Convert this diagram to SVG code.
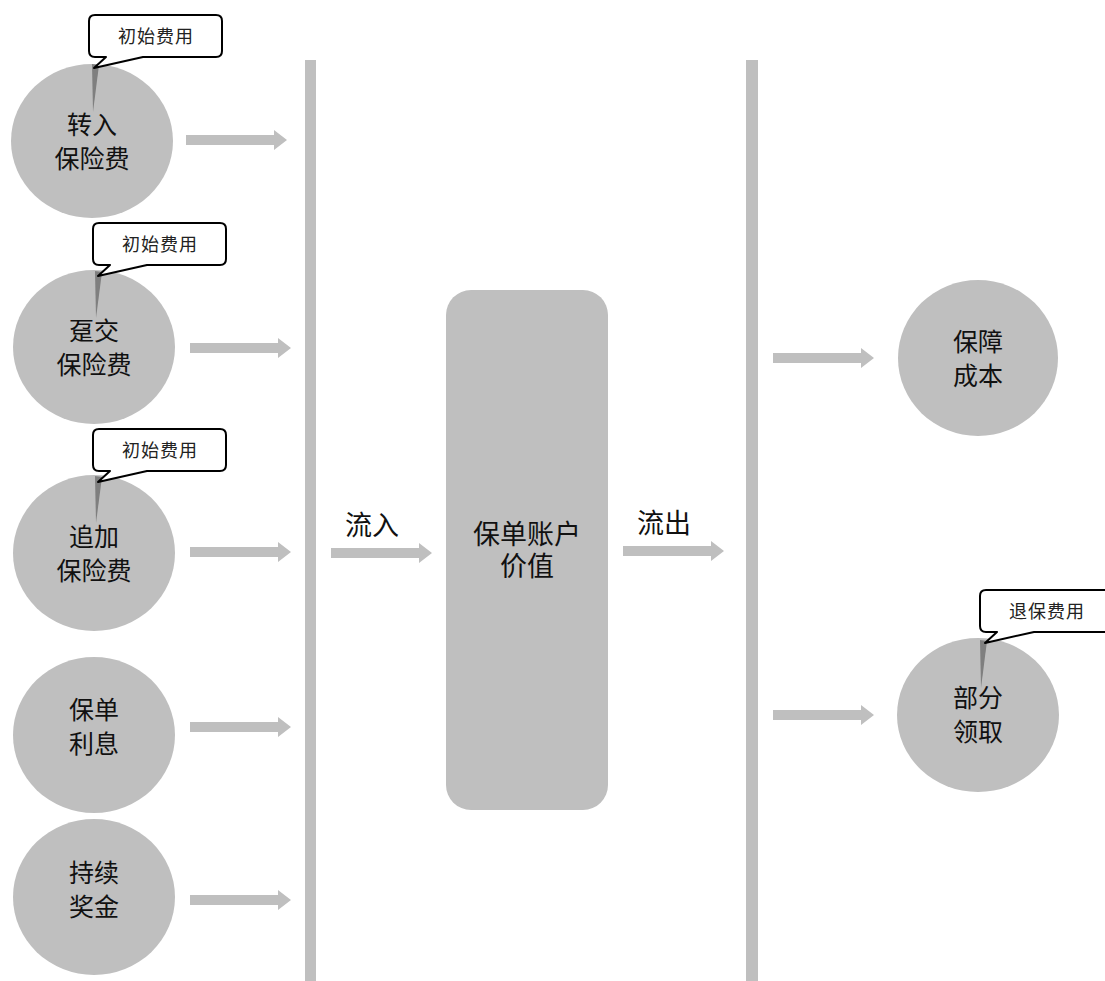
<svg xmlns="http://www.w3.org/2000/svg" width="1105" height="981" viewBox="0 0 1105 981">
<style>
.c{fill:#bfbfbf}
.w{fill:#7f7f7f}
.t{font-family:"Liberation Serif","Noto Sans CJK SC",serif;font-size:25px;fill:#111;text-anchor:middle}
.big{font-size:27px}
.ct{font-family:"Liberation Serif","Noto Sans CJK SC",serif;font-size:18px;fill:#222;text-anchor:middle;letter-spacing:1px}
.co{fill:#fff;stroke:#000;stroke-width:2;stroke-linejoin:round}
.bar{fill:#bfbfbf}
</style>
<defs>
<path id="arr" d="M0,-5 H88 V-10 L101,0 L88,10 V5 H0 Z" fill="#bfbfbf"/>
<path id="callout" d="M6,0 H127 Q133,0 133,6 V36 Q133,42 127,42 H54 L5,53 L17,42 H6 Q0,42 0,36 V6 Q0,0 6,0 Z"/>
</defs>
<rect class="bar" x="305" y="60" width="11" height="921"/>
<rect class="bar" x="746" y="60" width="12" height="921"/>
<g id="connectors">
<use href="#arr" x="186" y="140"/>
<use href="#arr" x="190" y="348"/>
<use href="#arr" x="190" y="552"/>
<use href="#arr" x="190" y="727"/>
<use href="#arr" x="190" y="900"/>
<use href="#arr" x="331" y="553"/>
<use href="#arr" x="623" y="551"/>
<use href="#arr" x="773" y="358"/>
<use href="#arr" x="773" y="715"/>
</g>
<g id="n1">
<ellipse class="c" cx="92" cy="141" rx="81" ry="77"/>
<polygon class="w" points="92,64 99,65 93,112"/>
<use href="#callout" x="89" y="15" class="co"/>
<text class="ct" x="156" y="43">初始费用</text>
<text class="t" x="92" y="134">转入</text>
<text class="t" x="92" y="168">保险费</text>
</g>
<g id="n2">
<ellipse class="c" cx="94" cy="347" rx="81" ry="77"/>
<polygon class="w" points="95,271 102,272 96,318"/>
<use href="#callout" x="93" y="223" class="co"/>
<text class="ct" x="160" y="251">初始费用</text>
<text class="t" x="94" y="340">趸交</text>
<text class="t" x="94" y="374">保险费</text>
</g>
<g id="n3">
<ellipse class="c" cx="94" cy="553" rx="81" ry="78"/>
<polygon class="w" points="95,476 102,477 96,523"/>
<use href="#callout" x="93" y="429" class="co"/>
<text class="ct" x="160" y="457">初始费用</text>
<text class="t" x="94" y="546">追加</text>
<text class="t" x="94" y="580">保险费</text>
</g>
<g id="n4">
<ellipse class="c" cx="94" cy="735" rx="81" ry="78"/>
<text class="t" x="94" y="719">保单</text>
<text class="t" x="94" y="753">利息</text>
</g>
<g id="n5">
<ellipse class="c" cx="94" cy="897" rx="81" ry="78"/>
<text class="t" x="94" y="882">持续</text>
<text class="t" x="94" y="916">奖金</text>
</g>
<g id="account">
<rect class="c" x="446" y="290" width="162" height="520" rx="25"/>
<text class="t big" x="527" y="544">保单账户</text>
<text class="t big" x="527" y="576">价值</text>
</g>
<text class="t big" x="372" y="535" id="inflow">流入</text>
<text class="t big" x="664" y="533" id="outflow">流出</text>
<g id="r1">
<ellipse class="c" cx="978" cy="358" rx="80" ry="78"/>
<text class="t" x="978" y="351">保障</text>
<text class="t" x="978" y="385">成本</text>
</g>
<g id="r2">
<ellipse class="c" cx="978" cy="715" rx="81" ry="77"/>
<polygon class="w" points="980,640 987,641 981,688"/>
<use href="#callout" x="980" y="590" class="co"/>
<text class="ct" x="1047" y="618">退保费用</text>
<text class="t" x="978" y="707">部分</text>
<text class="t" x="978" y="741">领取</text>
</g>
</svg>
